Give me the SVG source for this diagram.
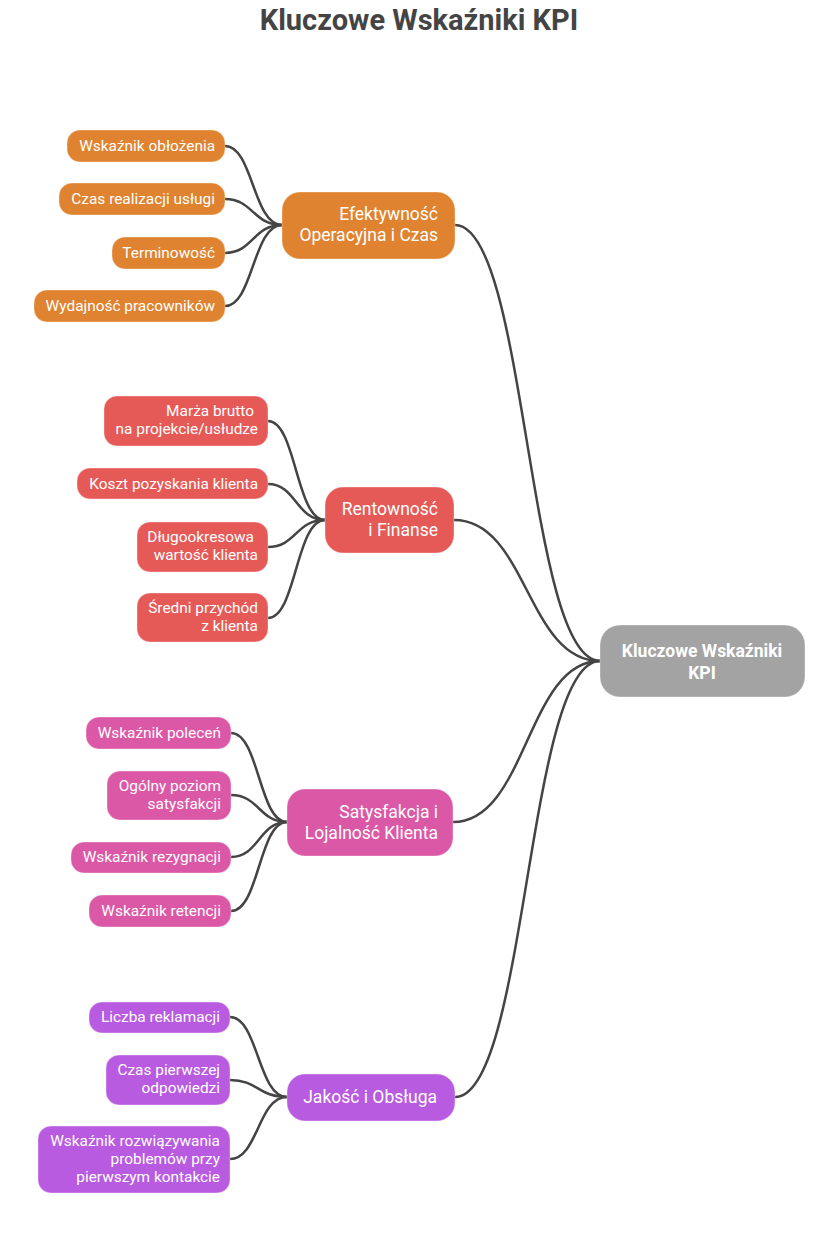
<svg xmlns="http://www.w3.org/2000/svg" width="826" height="1239" viewBox="0 0 826 1239">
<style>
.t{font-family:Roboto,"Liberation Sans",sans-serif;fill:#fff;text-anchor:end}
.c{font-size:15.4px}
.b{font-size:17.5px}
.box{stroke:#fff;stroke-opacity:0.35;stroke-width:1}
.o{fill:#DF8330}.r{fill:#E55A57}.p{fill:#DB58A6}.v{fill:#B85BE0}.g{fill:#A3A3A3}
.ln{fill:none;stroke:#444;stroke-width:2.5;stroke-linecap:round}
</style>
<rect width="826" height="1239" fill="#fff"/>
<text x="419" y="30" style="font-family:Roboto,'Liberation Sans',sans-serif;font-size:29px;font-weight:bold;fill:#444;text-anchor:middle">Kluczowe Wskaźniki KPI</text>
<g id="connectors">
<path class="ln" d="M225,146 C253,146 253,225 282,225"/>
<path class="ln" d="M225,199 C253,199 253,225 282,225"/>
<path class="ln" d="M225,253 C253,253 253,225 282,225"/>
<path class="ln" d="M225,306 C253,306 253,225 282,225"/>
<path class="ln" d="M268,421 C296,421 296,520 325,520"/>
<path class="ln" d="M268,484 C296,484 296,520 325,520"/>
<path class="ln" d="M268,547 C296,547 296,520 325,520"/>
<path class="ln" d="M268,618 C296,618 296,520 325,520"/>
<path class="ln" d="M231,733 C259,733 259,822 287,822"/>
<path class="ln" d="M231,795 C259,795 259,822 287,822"/>
<path class="ln" d="M231,857 C259,857 259,822 287,822"/>
<path class="ln" d="M231,911 C259,911 259,822 287,822"/>
<path class="ln" d="M230,1017 C258,1017 258,1097 287,1097"/>
<path class="ln" d="M230,1080 C258,1080 258,1097 287,1097"/>
<path class="ln" d="M230,1159 C258,1159 258,1097 287,1097"/>
<path class="ln" d="M455,225 C527,225 527,661 600,661"/>
<path class="ln" d="M454,520 C527,520 527,661 600,661"/>
<path class="ln" d="M453,822 C527,822 527,661 600,661"/>
<path class="ln" d="M455,1097 C527,1097 527,661 600,661"/>
</g>
<g id="root"><rect class="box g" x="600" y="625" width="205" height="72" rx="20"/>
<text class="t b" x="702" y="657" style="text-anchor:middle;font-weight:bold">Kluczowe Wskaźniki</text>
<text class="t b" x="702" y="679" style="text-anchor:middle;font-weight:bold">KPI</text></g>

<g id="b1"><rect class="box o" x="282" y="192" width="173" height="67" rx="18"/>
<text class="t b" x="438" y="220">Efektywność</text><text class="t b" x="438" y="241">Operacyjna i Czas</text></g>
<g id="c1a"><rect class="box o" x="67" y="130" width="158" height="32" rx="13"/><text class="t c" x="215" y="151">Wskaźnik obłożenia</text></g>
<g id="c1b"><rect class="box o" x="59" y="183" width="166" height="32" rx="13"/><text class="t c" x="215" y="204">Czas realizacji usługi</text></g>
<g id="c1c"><rect class="box o" x="112" y="237" width="113" height="32" rx="13"/><text class="t c" x="215" y="258">Terminowość</text></g>
<g id="c1d"><rect class="box o" x="34" y="290" width="191" height="32" rx="13"/><text class="t c" x="215" y="311">Wydajność pracowników</text></g>

<g id="b2"><rect class="box r" x="325" y="487" width="129" height="66" rx="18"/>
<text class="t b" x="438" y="515">Rentowność</text><text class="t b" x="438" y="536">i Finanse</text></g>
<g id="c2a"><rect class="box r" x="104" y="396" width="164" height="50" rx="13"/><text class="t c" x="254" y="416">Marża brutto</text><text class="t c" x="258" y="434">na projekcie/usłudze</text></g>
<g id="c2b"><rect class="box r" x="77" y="468" width="191" height="31" rx="13"/><text class="t c" x="258" y="489">Koszt pozyskania klienta</text></g>
<g id="c2c"><rect class="box r" x="137" y="522" width="131" height="50" rx="13"/><text class="t c" x="254" y="542">Długookresowa</text><text class="t c" x="258" y="560">wartość klienta</text></g>
<g id="c2d"><rect class="box r" x="137" y="593" width="131" height="49" rx="13"/><text class="t c" x="258" y="613">Średni przychód</text><text class="t c" x="258" y="631">z klienta</text></g>

<g id="b3"><rect class="box p" x="287" y="789" width="166" height="67" rx="18"/>
<text class="t b" x="438" y="818">Satysfakcja i</text><text class="t b" x="438" y="839">Lojalność Klienta</text></g>
<g id="c3a"><rect class="box p" x="86" y="717" width="145" height="32" rx="13"/><text class="t c" x="221" y="738">Wskaźnik poleceń</text></g>
<g id="c3b"><rect class="box p" x="107" y="771" width="124" height="49" rx="13"/><text class="t c" x="221" y="791">Ogólny poziom</text><text class="t c" x="221" y="809">satysfakcji</text></g>
<g id="c3c"><rect class="box p" x="71" y="842" width="160" height="31" rx="13"/><text class="t c" x="221" y="862">Wskaźnik rezygnacji</text></g>
<g id="c3d"><rect class="box p" x="89" y="895" width="142" height="32" rx="13"/><text class="t c" x="221" y="916">Wskaźnik retencji</text></g>

<g id="b4"><rect class="box v" x="287" y="1074" width="168" height="47" rx="18"/>
<text class="t b" x="437" y="1103">Jakość i Obsługa</text></g>
<g id="c4a"><rect class="box v" x="89" y="1002" width="141" height="31" rx="13"/><text class="t c" x="220" y="1022">Liczba reklamacji</text></g>
<g id="c4b"><rect class="box v" x="106" y="1055" width="124" height="50" rx="13"/><text class="t c" x="220" y="1075">Czas pierwszej</text><text class="t c" x="220" y="1093">odpowiedzi</text></g>
<g id="c4c"><rect class="box v" x="38" y="1126" width="192" height="67" rx="13"/><text class="t c" x="220" y="1146">Wskaźnik rozwiązywania</text><text class="t c" x="220" y="1164">problemów przy</text><text class="t c" x="220" y="1182">pierwszym kontakcie</text></g>
</svg>
